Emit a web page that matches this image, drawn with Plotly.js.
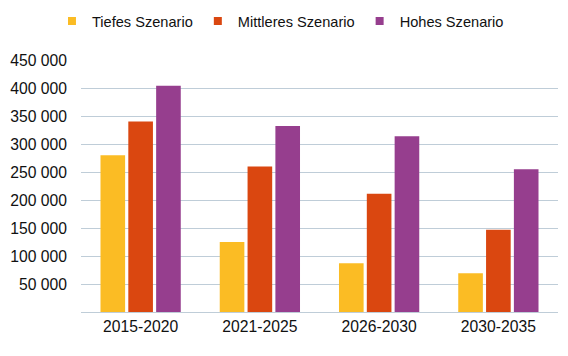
<!DOCTYPE html>
<html>
<head>
<meta charset="utf-8">
<script src="https://cdn.plot.ly/plotly-3.0.1.min.js"></script>
<style>html,body{margin:0;padding:0;background:#fff;}#chart{width:568px;height:356px;}</style>
</head>
<body>
<div id="chart"></div>
<script>
const categories = ["2015-2020", "2021-2025", "2026-2030", "2030-2035"];
const seriesNames = ["Tiefes Szenario", "Mittleres Szenario", "Hohes Szenario"];
const tiefes = [280000, 125000, 87000, 69000];
const mittleres = [340000, 260000, 211000, 147000];
const hohes = [404000, 332000, 314000, 255000];
const colors = ["#FBBC24", "#DA4710", "#963E8E"];
const tickVals = [50000, 100000, 150000, 200000, 250000, 300000, 350000, 400000, 450000];
const tickText = ["50 000", "100 000", "150 000", "200 000", "250 000", "300 000", "350 000", "400 000", "450 000"];

const values = [tiefes, mittleres, hohes];
const traces = [];
values.forEach((v, i) => {
  traces.push({
    type: "bar", x: categories, y: v, name: seriesNames[i],
    marker: {color: colors[i]}, showlegend: false, hoverinfo: "x+y"
  });
});
values.forEach((v, i) => {
  traces.push({
    type: "scatter", mode: "markers", x: [categories[0]], y: [null], name: seriesNames[i],
    marker: {color: colors[i], symbol: "square", size: 8}, showlegend: true, hoverinfo: "skip"
  });
});

const layout = {
  width: 568, height: 356,
  margin: {l: 81, r: 10, t: 60, b: 44},
  paper_bgcolor: "#fff", plot_bgcolor: "#fff",
  font: {family: "Liberation Sans, Arial, sans-serif", size: 15.7, color: "#111"},
  barmode: "group", bargap: 0.30, bargroupgap: 0.115,
  showlegend: true,
  legend: {orientation: "h", x: 0.0915, xref: "container", xanchor: "left", y: 0.941, yanchor: "middle", yref: "container",
           font: {size: 14.6, color: "#111"}, traceorder: "normal", itemwidth: 30},
  xaxis: {type: "category", showgrid: false, showline: true, linecolor: "#BFCDD8", linewidth: 1,
          ticks: "", tickfont: {size: 15.7}, fixedrange: true, zeroline: false},
  yaxis: {range: [0, 450000], tickvals: tickVals, ticktext: tickText, showgrid: true,
          gridcolor: "#BFCDD8", gridwidth: 1, zeroline: false, showline: false, ticks: "",
          tickfont: {size: 15.7}, ticklabelstandoff: 13, fixedrange: true}
};

Plotly.newPlot("chart", traces, layout, {displayModeBar: false, staticPlot: true});
</script>
</body>
</html>
